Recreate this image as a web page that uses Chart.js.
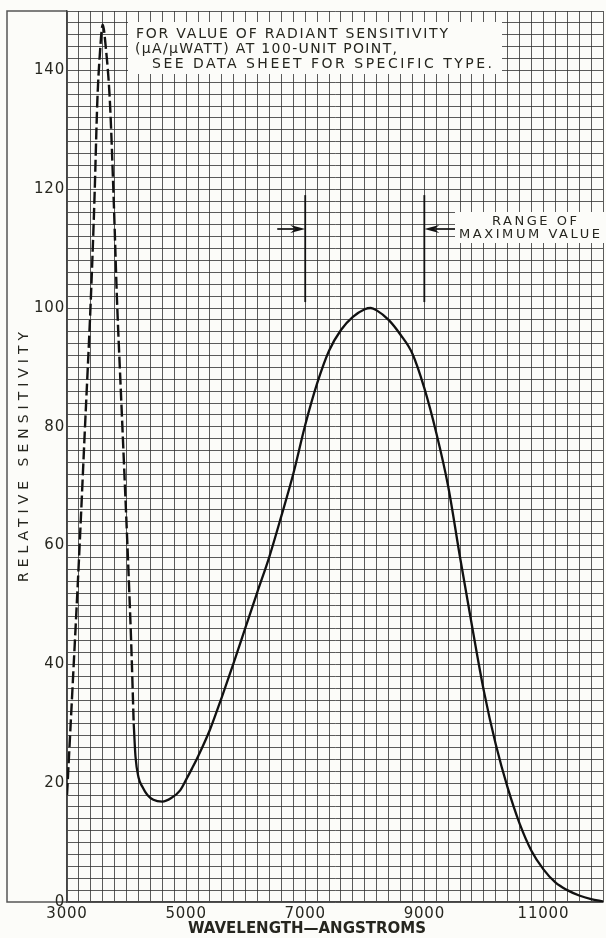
<!DOCTYPE html>
<html>
<head>
<meta charset="utf-8">
<title>Relative sensitivity vs wavelength</title>
<script src="https://cdn.jsdelivr.net/npm/chart.js@4.4.1/dist/chart.umd.min.js"></script>
<style>
  html, body { margin: 0; padding: 0; background: #fcfcf9; }
  #wrap { position: relative; width: 606px; height: 938px; }
</style>
</head>
<body>
<div id="wrap"><canvas id="chart"></canvas></div>
<script>
// short-wave peak, drawn dashed in the original
const dashWave  = [3000, 3100, 3200, 3300, 3400, 3460, 3510, 3550, 3600, 3650, 3720, 3785, 3840, 3900, 3960, 4025, 4080, 4120];
const dashValue = [18, 37.5, 57.5, 79.5, 101.5, 118, 135, 142.5, 147.7, 144, 134.8, 118, 101.2, 87, 73, 57.5, 43, 30];

// main response curve (solid)
const solidWave  = [4120, 4150, 4200, 4270, 4350, 4450, 4600, 4750, 4900, 5000,
                    5100, 5200, 5400, 5600, 5800, 6000, 6200, 6400, 6600, 6800,
                    7000, 7200, 7400, 7600, 7800, 8000, 8100, 8200, 8400, 8600,
                    8800, 9000, 9200, 9400, 9600, 9800, 10000, 10200, 10400, 10600,
                    10800, 11000, 11200, 11400, 11600, 11800, 12000];
const solidValue = [30, 24.5, 21, 19.3, 18, 17.2, 16.9, 17.5, 18.8, 20.6,
                    22.5, 24.5, 29, 34.5, 40.3, 46.3, 52.3, 58.2, 65, 72.1,
                    80.3, 87.3, 92.8, 96.3, 98.5, 99.8, 100, 99.6, 98, 95.5,
                    92.3, 86.5, 79, 70, 58, 46.5, 35.5, 26.5, 19.2, 13.2,
                    8.6, 5.5, 3.3, 2, 1.1, 0.5, 0.1];

// "range of maximum value" markers
const rangeWave = [7000, 9000];
const rangeLow = 101;
const rangeHigh = 119;
const arrowLevel = 113.3;
const arrowTail = [6530, 9520];

const xTickLabels = [3000, 5000, 7000, 9000, 11000];
const yTickLabels = [0, 20, 40, 60, 80, 100, 120, 140];

const noteLines = ['FOR VALUE OF RADIANT SENSITIVITY', '(\u00b5A/\u00b5WATT) AT 100-UNIT POINT,', 'SEE DATA SHEET FOR SPECIFIC TYPE.'];
const rangeLabel = ['RANGE OF', 'MAXIMUM VALUE'];
const xTitle = 'WAVELENGTH\u2014ANGSTROMS';
const yTitle = 'RELATIVE SENSITIVITY';

const INK = '#26261f';
const GRID = 'rgba(50,50,50,0.8)';
const PAPER = '#fcfcf9';
const FONT = "'DejaVu Sans', sans-serif";

Chart.defaults.font.family = FONT;

function toPoints(xs, ys) {
    return xs.map((x, i) => ({ x: x, y: ys[i] }));
}

// draw text stretched to a given width with letter spacing
function spacedText(ctx, text, x, y, width) {
    ctx.letterSpacing = '0px';
    const w = ctx.measureText(text).width;
    const gap = Math.max(0, (width - w) / (text.length - 1));
    ctx.letterSpacing = gap + 'px';
    ctx.textAlign = 'left';
    ctx.fillText(text, x, y);
    ctx.letterSpacing = '0px';
}

function arrow(ctx, x0, x1, y) {
    const dir = Math.sign(x1 - x0);
    ctx.beginPath();
    ctx.moveTo(x0, y);
    ctx.lineTo(x1 - dir * 10, y);
    ctx.stroke();
    ctx.beginPath();
    ctx.moveTo(x1, y);
    ctx.lineTo(x1 - dir * 15, y - 4);
    ctx.lineTo(x1 - dir * 10, y);
    ctx.lineTo(x1 - dir * 15, y + 4);
    ctx.closePath();
    ctx.fill();
}

const paper = {
    id: 'paper',
    beforeDraw(chart) {
        const { ctx, chartArea: a } = chart;
        ctx.save();
        ctx.fillStyle = PAPER;
        ctx.fillRect(0, 0, chart.width, chart.height);
        ctx.strokeStyle = '#555';
        ctx.lineWidth = 1.5;
        ctx.beginPath();
        ctx.moveTo(a.left, a.top);
        ctx.lineTo(7, a.top);
        ctx.lineTo(7, a.bottom);
        ctx.lineTo(a.left, a.bottom);
        ctx.stroke();
        ctx.restore();
        ctx.letterSpacing = '0.8px';
    },
    afterDatasetsDraw(chart) {
        const { ctx, scales: { x, y } } = chart;
        ctx.save();
        ctx.letterSpacing = '0px';
        ctx.strokeStyle = '#111';
        ctx.fillStyle = '#111';
        ctx.lineWidth = 1.7;
        const yy = y.getPixelForValue(arrowLevel);
        arrow(ctx, x.getPixelForValue(arrowTail[0]), x.getPixelForValue(rangeWave[0]), yy);
        arrow(ctx, x.getPixelForValue(arrowTail[1]), x.getPixelForValue(rangeWave[1]), yy);
        ctx.restore();
    },
    afterDraw(chart) {
        const { ctx } = chart;
        ctx.save();
        ctx.letterSpacing = '0px';

        // note box at the top
        ctx.fillStyle = PAPER;
        ctx.fillRect(128, 22, 374, 52);
        ctx.fillStyle = INK;
        ctx.textBaseline = 'middle';
        ctx.font = '14px ' + FONT;
        spacedText(ctx, noteLines[0], 136, 34, 312);
        spacedText(ctx, noteLines[1], 135, 49, 262);
        spacedText(ctx, noteLines[2], 152, 64, 340);

        // range label box
        ctx.fillStyle = PAPER;
        ctx.fillRect(455, 212, 151, 31);
        ctx.fillStyle = INK;
        ctx.font = '13px ' + FONT;
        spacedText(ctx, rangeLabel[0], 492, 222, 85);
        spacedText(ctx, rangeLabel[1], 459, 235, 141);

        // axis titles
        ctx.font = 'bold 15px ' + FONT;
        spacedText(ctx, xTitle, 306 - 118, 929, 236);

        ctx.font = '14px ' + FONT;
        ctx.translate(24, 457);
        ctx.rotate(-Math.PI / 2);
        spacedText(ctx, yTitle, -125, 0, 250);
        ctx.restore();
    }
};

new Chart(document.getElementById('chart'), {
    type: 'line',
    data: {
        datasets: [
            {
                data: toPoints(dashWave, dashValue),
                borderColor: '#111',
                borderWidth: 2.4,
                borderDash: [12, 4],
                cubicInterpolationMode: 'monotone',
                pointRadius: 0
            },
            {
                data: toPoints(solidWave, solidValue),
                borderColor: '#111',
                borderWidth: 2.3,
                cubicInterpolationMode: 'monotone',
                pointRadius: 0
            },
            {
                data: [{ x: rangeWave[0], y: rangeLow }, { x: rangeWave[0], y: rangeHigh }],
                borderColor: '#111',
                borderWidth: 1.8,
                pointRadius: 0
            },
            {
                data: [{ x: rangeWave[1], y: rangeLow }, { x: rangeWave[1], y: rangeHigh }],
                borderColor: '#111',
                borderWidth: 1.8,
                pointRadius: 0
            }
        ]
    },
    options: {
        responsive: true,
        maintainAspectRatio: false,
        animation: false,
        layout: { padding: { top: 10, right: 0, bottom: 0, left: 0 } },
        plugins: {
            legend: { display: false },
            tooltip: { enabled: false }
        },
        scales: {
            x: {
                type: 'linear',
                min: 3000,
                max: 12000,
                afterFit: (s) => { s.height = 36; },
                border: { display: true, color: '#444', width: 1.5 },
                grid: { color: GRID, lineWidth: 1, drawTicks: false },
                ticks: {
                    stepSize: 200,
                    autoSkip: false,
                    maxRotation: 0,
                    padding: 3,
                    color: INK,
                    font: { size: 15 },
                    callback: (v) => xTickLabels.includes(v) ? String(v) : ''
                }
            },
            y: {
                min: 0,
                max: 150,
                afterFit: (s) => { s.width = 67; },
                border: { display: true, color: '#444', width: 1.5 },
                grid: { color: GRID, lineWidth: 1, drawTicks: false },
                ticks: {
                    stepSize: 2,
                    autoSkip: false,
                    padding: 2,
                    color: INK,
                    font: { size: 15 },
                    callback: (v) => yTickLabels.includes(v) ? String(v) : ''
                }
            }
        }
    },
    plugins: [paper]
});
</script>
</body>
</html>
